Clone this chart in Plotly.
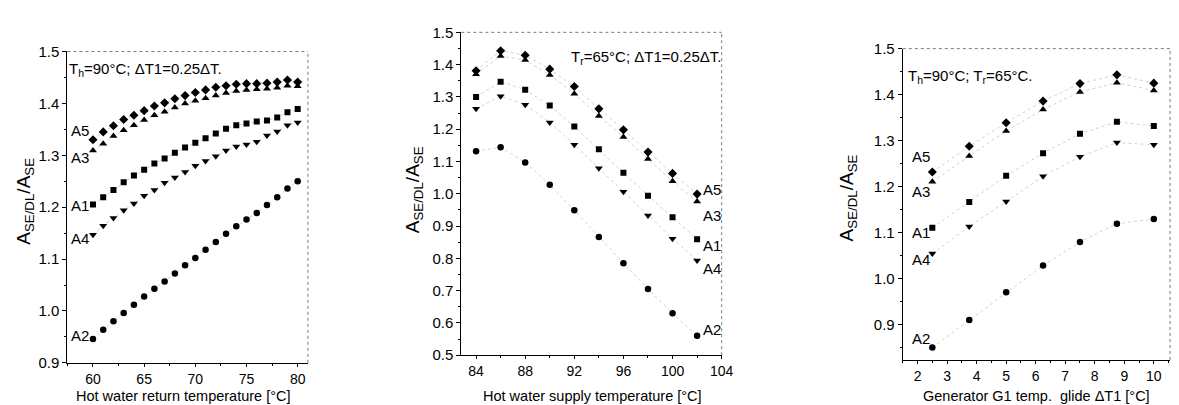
import plotly.graph_objects as go

W, H = 1179, 405

# ---------------- data ----------------
p1_x = list(range(60, 81))
p1_A5 = [1.330, 1.345, 1.357, 1.369, 1.377, 1.386, 1.395, 1.401, 1.409, 1.415, 1.421,
         1.426, 1.431, 1.434, 1.437, 1.438, 1.438, 1.439, 1.441, 1.445, 1.441]
p1_A3 = [1.309, 1.322, 1.337, 1.348, 1.358, 1.368, 1.377, 1.384, 1.392, 1.400, 1.405,
         1.410, 1.415, 1.420, 1.424, 1.426, 1.427, 1.428, 1.430, 1.434, 1.433]
p1_A1 = [1.205, 1.219, 1.233, 1.248, 1.261, 1.272, 1.284, 1.294, 1.305, 1.315, 1.324,
         1.333, 1.342, 1.351, 1.358, 1.361, 1.365, 1.367, 1.373, 1.383, 1.389]
p1_A4 = [1.147, 1.164, 1.179, 1.194, 1.207, 1.222, 1.233, 1.247, 1.257, 1.268, 1.280,
         1.289, 1.298, 1.309, 1.317, 1.321, 1.326, 1.338, 1.346, 1.358, 1.363]
p1_A2 = [0.946, 0.964, 0.980, 0.996, 1.012, 1.028, 1.043, 1.057, 1.072, 1.088, 1.102,
         1.118, 1.133, 1.149, 1.163, 1.176, 1.189, 1.204, 1.219, 1.236, 1.250]

p2_x = [84, 86, 88, 90, 92, 94, 96, 98, 100, 102]
p2_A5 = [1.381, 1.443, 1.429, 1.386, 1.332, 1.263, 1.198, 1.129, 1.063, 0.999]
p2_A3 = [1.370, 1.427, 1.414, 1.368, 1.310, 1.241, 1.176, 1.108, 1.039, 0.976]
p2_A1 = [1.300, 1.347, 1.322, 1.273, 1.208, 1.138, 1.065, 0.994, 0.927, 0.859]
p2_A4 = [1.263, 1.302, 1.276, 1.221, 1.152, 1.079, 1.006, 0.933, 0.861, 0.793]
p2_A2 = [1.132, 1.144, 1.097, 1.028, 0.949, 0.866, 0.785, 0.705, 0.630, 0.560]

p3_x = [2.5, 3.75, 5.0, 6.25, 7.5, 8.75, 10.0]
p3_A5 = [1.232, 1.288, 1.339, 1.386, 1.424, 1.443, 1.425]
p3_A3 = [1.211, 1.267, 1.321, 1.368, 1.406, 1.426, 1.409]
p3_A1 = [1.111, 1.167, 1.224, 1.273, 1.315, 1.341, 1.332]
p3_A4 = [1.055, 1.114, 1.168, 1.223, 1.265, 1.296, 1.291]
p3_A2 = [0.851, 0.911, 0.971, 1.029, 1.080, 1.120, 1.130]

series_names = ["A5", "A3", "A1", "A4", "A2"]
symbols = {"A5": "diamond", "A3": "triangle-up", "A1": "square",
           "A4": "triangle-down", "A2": "circle"}
msize = {"A5": 7, "A3": 7, "A1": 6, "A4": 7, "A2": 6.5}

panels = [
    (p1_x, {"A5": p1_A5, "A3": p1_A3, "A1": p1_A1, "A4": p1_A4, "A2": p1_A2}),
    (p2_x, {"A5": p2_A5, "A3": p2_A3, "A1": p2_A1, "A4": p2_A4, "A2": p2_A2}),
    (p3_x, {"A5": p3_A5, "A3": p3_A3, "A1": p3_A1, "A4": p3_A4, "A2": p3_A2}),
]

FONT = "Liberation Sans, Arial, sans-serif"

fig = go.Figure()
for i, (xs, ser) in enumerate(panels):
    xa = "x" if i == 0 else f"x{i+1}"
    ya = "y" if i == 0 else f"y{i+1}"
    for name in series_names:
        fig.add_trace(go.Scatter(
            x=xs, y=ser[name], mode="lines+markers", name=name,
            xaxis=xa, yaxis=ya, showlegend=False,
            line=dict(color="rgba(140,140,140,0.4)", width=1, dash="dot"),
            marker=dict(symbol=symbols[name], size=msize[name], color="black",
                        line=dict(width=0)),
        ))

def px_dom_x(a, b):
    return [a / W, b / W]

def px_dom_y(top, bottom):
    return [1 - bottom / H, 1 - top / H]

tickfont = dict(family=FONT, size=14, color="black")

def xaxis(dom, rng, dtick, minor_dtick, tick0):
    return dict(domain=dom, range=rng, showgrid=False, zeroline=False,
                showline=True, linecolor="black", linewidth=1.2,
                ticks="outside", ticklen=3, tickwidth=1, tickcolor="black",
                dtick=dtick, tick0=tick0, tickfont=tickfont,
                minor=dict(ticks="outside", ticklen=2, dtick=minor_dtick,
                           tickcolor="black", showgrid=False),
                fixedrange=True)

def yaxis(dom, rng, anchor):
    return dict(domain=dom, range=rng, anchor=anchor, showgrid=False, zeroline=False,
                showline=True, linecolor="black", linewidth=1.2,
                ticks="outside", ticklen=4, tickwidth=1, tickcolor="black",
                dtick=0.1, tick0=0.5, tickformat=".1f",
                tickfont=dict(family=FONT, size=15, color="black"),
                minor=dict(ticks="outside", ticklen=2, dtick=0.05,
                           tickcolor="black", showgrid=False),
                fixedrange=True)

d1x = px_dom_x(60, 303); d1y = px_dom_y(36, 361)
d2x = px_dom_x(458, 721); d2y = px_dom_y(16, 353)
d3x = px_dom_x(904, 1174); d3y = px_dom_y(33, 358)

fig.update_layout(
    width=W, height=H,
    margin=dict(l=0, r=0, t=0, b=0),
    paper_bgcolor="white", plot_bgcolor="white",
    font=dict(family=FONT, color="black"),
    xaxis=dict(**xaxis(d1x, [57.5, 81], 5, 2.5, 60), anchor="y"),
    yaxis=yaxis(d1y, [0.9, 1.5], "x"),
    xaxis2=dict(**xaxis(d2x, [82.8, 104], 4, 2, 84), anchor="y2"),
    yaxis2=yaxis(d2y, [0.5, 1.5], "x2"),
    xaxis3=dict(**xaxis(d3x, [1.5, 10.55], 1, 0.5, 2), anchor="y3"),
    yaxis3=yaxis(d3y, [0.824, 1.5], "x3"),
)

# dotted top / right frame lines
shapes = []
for xa, ya in [("x", "y"), ("x2", "y2"), ("x3", "y3")]:
    shapes.append(dict(type="line", xref=f"{xa} domain", yref=f"{ya} domain",
                       x0=0, x1=1, y0=1, y1=1,
                       line=dict(color="rgba(90,90,90,0.8)", width=1, dash="dot")))
    shapes.append(dict(type="line", xref=f"{xa} domain", yref=f"{ya} domain",
                       x0=1, x1=1, y0=0, y1=1,
                       line=dict(color="rgba(90,90,90,0.8)", width=1, dash="dot")))
fig.update_layout(shapes=shapes)

def ann(text, px, py, size=14, xanchor="center", yanchor="middle", angle=0):
    fig.add_annotation(text=text, xref="paper", yref="paper",
                       x=px / W, y=1 - py / H, showarrow=False,
                       xanchor=xanchor, yanchor=yanchor, textangle=angle,
                       font=dict(family=FONT, size=size, color="black"))

ytitle = "A<sub>SE/DL</sub>/A<sub>SE</sub>"
ann(ytitle, 17, 192, size=19, angle=-90)
ann(ytitle, 411, 180, size=19, angle=-90)
ann(ytitle, 849, 189, size=19, angle=-90)

ann("Hot water return temperature [°C]", 177, 396, size=14.5)
ann("Hot water supply temperature [°C]", 591, 396, size=14.5)
ann("Generator G1 temp.  glide ΔT1 [°C]", 1039, 396, size=14.5)

ann("T<sub>h</sub>=90°C; ΔT1=0.25ΔT.", 60, 55, size=15, xanchor="left")
ann("T<sub>r</sub>=65°C; ΔT1=0.25ΔT.", 722, 42, size=15, xanchor="right")
ann("T<sub>h</sub>=90°C; T<sub>r</sub>=65°C.", 907, 62, size=15, xanchor="left")

# series labels
for name, py in zip(series_names, [118, 147, 197, 231, 332]):
    ann(name, 84, py, size=15, xanchor="right")
for name, py in zip(series_names, [180, 207, 239, 262, 326]):
    ann(name, 700, py, size=15, xanchor="left")
for name, py in zip(series_names, [146, 182, 225, 253, 336]):
    ann(name, 933, py, size=15, xanchor="right")

fig.write_html("out.html")
